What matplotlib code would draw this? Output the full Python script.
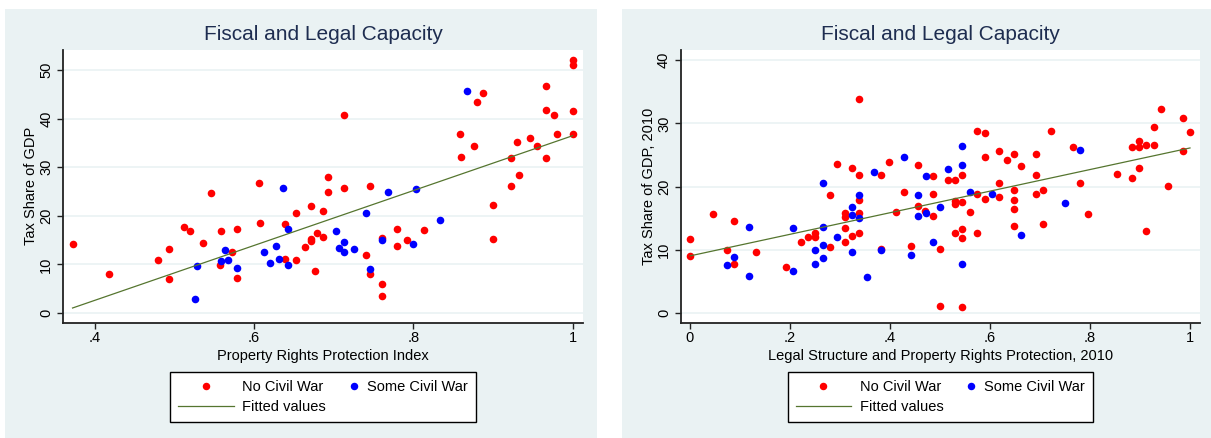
import numpy as np
import matplotlib
matplotlib.use("Agg")
import matplotlib.pyplot as plt
from matplotlib.patches import Rectangle
from matplotlib.ticker import FuncFormatter
from matplotlib.legend_handler import HandlerLine2D
from matplotlib.lines import Line2D

plt.rcParams['font.family'] = ['Liberation Sans', 'DejaVu Sans']

# ---- left panel: property rights index vs tax share ----
left_red_x = [0.372, 0.418, 0.479, 0.4925, 0.4925, 0.512, 0.519, 0.536, 0.546, 0.557,
              0.559, 0.572, 0.579, 0.579, 0.606, 0.608, 0.639, 0.639, 0.652, 0.653,
              0.664, 0.672, 0.672, 0.672, 0.676, 0.679, 0.686, 0.686, 0.693, 0.693,
              0.713, 0.713, 0.746, 0.740, 0.746, 0.760, 0.760, 0.760, 0.780, 0.780,
              0.7925, 0.813, 0.859, 0.860, 0.876, 0.880, 0.887, 0.900, 0.900, 0.923,
              0.923, 0.930, 0.933, 0.947, 0.955, 0.967, 0.967, 0.967, 0.977, 0.980,
              1.000, 1.000, 1.000, 1.000]
left_red_y = [14.1, 8.1, 11.0, 13.2, 7.0, 17.7, 16.8, 14.4, 24.7, 9.9,
              16.8, 12.6, 17.2, 7.2, 26.7, 18.6, 18.3, 11.2, 20.6, 10.8,
              13.6, 22.1, 15.3, 14.8, 8.6, 16.5, 20.9, 15.7, 27.9, 24.9,
              40.7, 25.8, 26.2, 11.9, 8.1, 15.5, 6.0, 3.4, 17.3, 13.8,
              15.1, 17.0, 36.8, 32.0, 34.3, 43.4, 45.3, 22.3, 15.2, 26.2,
              31.8, 35.1, 28.4, 35.9, 34.4, 46.7, 41.8, 31.8, 40.8, 36.9,
              52.0, 51.1, 41.6, 36.9]
left_blue_x = [0.526, 0.528, 0.558, 0.564, 0.567, 0.579, 0.613, 0.620, 0.628, 0.631,
               0.636, 0.643, 0.643, 0.703, 0.707, 0.713, 0.713, 0.725, 0.740, 0.746,
               0.760, 0.768, 0.799, 0.803, 0.833, 0.867]
left_blue_y = [2.8, 9.6, 10.6, 13.0, 10.8, 9.3, 12.5, 10.3, 13.7, 11.1,
               25.8, 17.3, 9.9, 16.8, 13.3, 14.6, 12.5, 13.1, 20.5, 9.0,
               15.1, 24.9, 14.1, 25.6, 19.2, 45.7]

# ---- right panel: legal structure 2010 vs tax share 2010 ----
right_red_x = [0.000, 0.000, 0.045, 0.073, 0.088, 0.088, 0.132, 0.191, 0.221, 0.235,
               0.250, 0.250, 0.280, 0.279, 0.294, 0.309, 0.309, 0.309, 0.309, 0.324,
               0.324, 0.338, 0.338, 0.338, 0.338, 0.338, 0.382, 0.382, 0.397, 0.411,
               0.427, 0.441, 0.456, 0.456, 0.470, 0.485, 0.485, 0.485, 0.500, 0.500,
               0.515, 0.529, 0.529, 0.529, 0.529, 0.544, 0.544, 0.544, 0.544, 0.544,
               0.559, 0.573, 0.573, 0.573, 0.589, 0.589, 0.589, 0.618, 0.618, 0.618,
               0.633, 0.647, 0.647, 0.647, 0.647, 0.647, 0.662, 0.691, 0.691, 0.691,
               0.706, 0.706, 0.721, 0.765, 0.779, 0.795, 0.853, 0.883, 0.883, 0.897,
               0.897, 0.897, 0.912, 0.912, 0.927, 0.927, 0.942, 0.956, 0.986, 0.986,
               1.000]
right_red_y = [11.7, 9.05, 15.7, 10.0, 14.6, 7.8, 9.7, 7.3, 11.3, 12.0,
               12.6, 12.0, 18.6, 10.4, 23.6, 15.8, 15.2, 13.4, 11.3, 22.9,
               12.2, 33.8, 21.9, 17.9, 15.8, 12.7, 21.8, 10.1, 23.9, 15.9,
               19.2, 10.6, 23.4, 16.9, 16.2, 21.7, 18.9, 15.4, 10.1, 1.15,
               21.0, 21.0, 17.7, 17.2, 12.7, 21.9, 17.5, 13.3, 11.9, 0.95,
               16.0, 28.8, 18.9, 12.7, 28.5, 24.7, 18.0, 25.7, 20.6, 18.4,
               24.2, 25.2, 19.4, 17.9, 16.5, 13.8, 23.3, 25.2, 21.8, 18.8,
               19.5, 14.1, 28.8, 26.2, 20.5, 15.6, 22.0, 26.3, 21.3, 27.2,
               26.3, 23.0, 26.5, 13.0, 29.4, 26.5, 32.3, 20.1, 30.9, 25.7,
               28.6]
right_blue_x = [0.073, 0.088, 0.117, 0.117, 0.205, 0.205, 0.250, 0.250, 0.265, 0.265,
                0.265, 0.265, 0.294, 0.324, 0.324, 0.324, 0.338, 0.338, 0.353, 0.368,
                0.382, 0.427, 0.441, 0.456, 0.456, 0.471, 0.471, 0.485, 0.500, 0.515,
                0.544, 0.544, 0.544, 0.559, 0.603, 0.662, 0.750, 0.779]
right_blue_y = [7.6, 8.9, 13.6, 5.9, 13.4, 6.6, 9.9, 7.8, 20.6, 13.6,
                10.8, 8.7, 12.1, 16.8, 15.5, 9.6, 18.6, 15.1, 5.7, 22.3,
                10.0, 24.7, 9.2, 18.6, 15.4, 21.6, 15.8, 11.3, 16.8, 22.8,
                26.4, 23.4, 7.8, 19.2, 18.9, 12.3, 17.4, 25.8]

title = "Fiscal and Legal Capacity"
left_xlabel = "Property Rights Protection Index"
right_xlabel = "Legal Structure and Property Rights Protection, 2010"
left_ylabel = "Tax Share of GDP"
right_ylabel = "Tax Share of GDP, 2010"
left_xticks = [0.4, 0.6, 0.8, 1.0]
right_xticks = [0, 0.2, 0.4, 0.6, 0.8, 1.0]
left_yticks = [0, 10, 20, 30, 40, 50]
right_yticks = [0, 10, 20, 30, 40]

W, H = 1211, 438
panel_bg = '#eaf2f3'
title_col = '#1e2d50'
fit_col = '#55752f'


def stata_fmt(v, pos):
    s = '%g' % round(v, 3)
    if s.startswith('0.'):
        s = s[1:]
    return s


def px_box(x0, x1, ytop, ybot):
    return [x0 / W, 1 - ybot / H, (x1 - x0) / W, (ybot - ytop) / H]


class RightMarker(HandlerLine2D):
    # marker sits near the right end of the key (second legend column)
    def get_xdata(self, legend, xdescent, ydescent, width, height, fontsize):
        m = -xdescent + width - 3
        return [m - 1, m + 1], [m]


fig = plt.figure(figsize=(W / 100, H / 100), dpi=100)
fig.patch.set_facecolor('white')

panels = [
    (5, 597, left_red_x, left_red_y, left_blue_x, left_blue_y, left_xticks, left_yticks,
     (0.36, 1.013), (-2.0, 54.1), left_xlabel, left_ylabel, 63, 583),
    (622, 1211, right_red_x, right_red_y, right_blue_x, right_blue_y, right_xticks, right_yticks,
     (-0.0186, 1.02), (-1.53, 41.6), right_xlabel, right_ylabel, 680.7, 1200),
]

for (bx0, bx1, rx, ry, bx, by, xt, yt, xl, yl, xlab, ylab, ax0, ax1) in panels:
    fig.patches.append(Rectangle((bx0 / W, 0), (bx1 - bx0) / W, 429 / H,
                                 transform=fig.transFigure, facecolor=panel_bg,
                                 edgecolor='none', zorder=-5))
    ax = fig.add_axes(px_box(ax0, ax1, 50, 322.7))
    ax.set_facecolor('white')
    ax.set_xlim(*xl)
    ax.set_ylim(*yl)
    ax.set_xticks(xt)
    ax.set_yticks(yt)
    ax.xaxis.set_major_formatter(FuncFormatter(stata_fmt))
    ax.yaxis.set_major_formatter(FuncFormatter(stata_fmt))
    for s in ['top', 'right']:
        ax.spines[s].set_visible(False)
    for s in ['left', 'bottom']:
        ax.spines[s].set_linewidth(1.3)
        ax.spines[s].set_color('#222222')
    ax.tick_params(length=4, width=1, color='#222222', labelsize=10.5, pad=2)
    ax.tick_params(axis='y', labelrotation=90, pad=3)
    for lab in ax.get_yticklabels():
        lab.set_va('center')
    ax.grid(axis='y', color=panel_bg, linewidth=1.2)
    ax.set_axisbelow(True)

    ax.scatter(rx, ry, s=30, color='#ff0000', linewidths=0, label='No Civil War', zorder=2)
    ax.scatter(bx, by, s=30, color='#0000ff', linewidths=0, label='Some Civil War', zorder=2)

    # linear fit over all points
    allx = np.array(rx + bx)
    ally = np.array(ry + by)
    slope, icpt = np.polyfit(allx, ally, 1)
    fx = np.array([allx.min(), allx.max()])
    ax.plot(fx, icpt + slope * fx, color=fit_col, linewidth=0.9, label='Fitted values', zorder=3)

    ax.set_xlabel(xlab, fontsize=10.5, labelpad=3)
    ax.set_ylabel(ylab, fontsize=10.5, labelpad=1)

    cx = (ax0 + ax1) / 2
    fig.text(cx / W, 1 - 35 / H, title, ha='center', va='center', fontsize=15, color=title_col)

    red_h = Line2D([], [], linestyle='none', marker='o', markersize=5.4,
                   markerfacecolor='#ff0000', markeredgewidth=0)
    blue_h = Line2D([], [], linestyle='none', marker='o', markersize=5.4,
                    markerfacecolor='#0000ff', markeredgewidth=0)
    line_h = Line2D([], [], color=fit_col, linewidth=0.9)
    leg = ax.legend([red_h, line_h, blue_h], ['No Civil War', 'Fitted values', 'Some Civil War'],
                    ncol=2, loc='upper center', bbox_to_anchor=(cx / W, 1 - 372 / H),
                    bbox_transform=fig.transFigure, fontsize=10.5, frameon=True,
                    fancybox=False, edgecolor='black', framealpha=1,
                    handlelength=3.8, handletextpad=0.6, columnspacing=-1.6,
                    labelspacing=0.4, borderpad=0.55, borderaxespad=0,
                    handler_map={blue_h: RightMarker()})
    leg.get_frame().set_linewidth(1.0)

fig.savefig('out.png', dpi=100, facecolor='white')
